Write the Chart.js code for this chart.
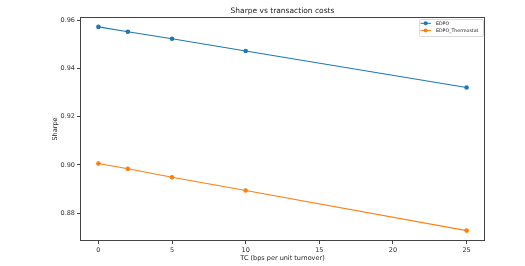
<!DOCTYPE html>
<html><head><meta charset="utf-8">
<script src="https://cdn.jsdelivr.net/npm/chart.js@4"></script>
<style>html,body{margin:0;padding:0;background:#fff}#c{display:block}</style>
</head><body>
<div style="width:525px;height:266px"><canvas id="c" width="525" height="266"></canvas></div>
<script>
const tcValues = [0, 2, 5, 10, 25];
const edpo = [0.9572, 0.9552, 0.9523, 0.9472, 0.9321];
const edpoThermostat = [0.9006, 0.8984, 0.8949, 0.8894, 0.8728];
const seriesNames = ['EDPO', 'EDPO_Thermostat'];
const xTicks = [0, 5, 10, 15, 20, 25];
const yTicks = [0.88, 0.90, 0.92, 0.94, 0.96];
const titleText = 'Sharpe vs transaction costs';
const xLabel = 'TC (bps per unit turnover)';
const yLabel = 'Sharpe';
const colors = ['#1f77b4', '#ff7f0e'];
const FONT = '"DejaVu Sans", sans-serif';

const toPts = ys => tcValues.map((x, i) => ({x, y: ys[i]}));

const decor = {
  id: 'decor',
  afterDraw(chart) {
    const {ctx, chartArea: a} = chart;
    ctx.save();
    // frame
    ctx.strokeStyle = '#444';
    ctx.lineWidth = 1;
    ctx.strokeRect(Math.round(a.left) + 0.5, Math.round(a.top) + 0.5, Math.round(a.right - a.left) - 1, Math.round(a.bottom - a.top) - 1);
    // title
    ctx.fillStyle = '#222';
    ctx.textAlign = 'center';
    ctx.textBaseline = 'middle';
    ctx.font = '7.5px ' + FONT;
    ctx.fillText(titleText, (a.left + a.right) / 2, 11);
    // x label
    ctx.font = '6.5px ' + FONT;
    ctx.fillText(xLabel, (a.left + a.right) / 2, 258);
    // y label
    ctx.save();
    ctx.translate(55, (a.top + a.bottom) / 2);
    ctx.rotate(-Math.PI / 2);
    ctx.fillText(yLabel, 0, 0);
    ctx.restore();
    // legend
    const bx = 419, by = 19, bw = 64, bh = 17;
    ctx.fillStyle = 'rgba(255,255,255,0.8)';
    ctx.strokeStyle = '#d0d0d0';
    ctx.lineWidth = 0.8;
    ctx.beginPath();
    ctx.roundRect(bx + 0.5, by + 0.5, bw, bh, 1.5);
    ctx.fill();
    ctx.stroke();
    const rows = [23.3, 30.6];
    ctx.font = '4.7px ' + FONT;
    ctx.textAlign = 'left';
    seriesNames.forEach((name, i) => {
      const y = rows[i];
      ctx.strokeStyle = colors[i];
      ctx.lineWidth = 1;
      ctx.beginPath();
      ctx.moveTo(420.5, y);
      ctx.lineTo(431, y);
      ctx.stroke();
      ctx.fillStyle = colors[i];
      ctx.beginPath();
      ctx.arc(425.7, y, 2, 0, Math.PI * 2);
      ctx.fill();
      ctx.fillStyle = '#222';
      ctx.fillText(name, 436, y + 0.3);
    });
    ctx.restore();
  }
};

new Chart(document.getElementById('c'), {
  type: 'scatter',
  data: {
    datasets: [edpo, edpoThermostat].map((ys, i) => ({
      label: seriesNames[i],
      data: toPts(ys),
      showLine: true,
      borderColor: colors[i],
      backgroundColor: colors[i],
      borderWidth: 1.1,
      pointRadius: 2.3,
      pointHoverRadius: 2.3,
      pointBorderWidth: 0,
      tension: 0
    }))
  },
  options: {
    responsive: false,
    animation: false,
    devicePixelRatio: 1,
    layout: {padding: {left: 0, right: 40, top: 17, bottom: 0}},
    plugins: {legend: {display: false}, title: {display: false}, tooltip: {enabled: false}},
    scales: {
      x: {
        type: 'linear', min: -1.25, max: 26.25,
        afterFit(s) { s.height = 25; },
        afterBuildTicks(s) { s.ticks = xTicks.map(v => ({value: v})); },
        grid: {drawOnChartArea: false, drawTicks: true, tickLength: 3, tickColor: '#444', color: '#444'},
        border: {display: false},
        ticks: {color: '#333', font: {family: FONT, size: 6.5}, padding: 2, maxRotation: 0, autoSkip: false}
      },
      y: {
        type: 'linear', min: 0.8685, max: 0.9613,
        afterFit(s) { s.width = 80; },
        afterBuildTicks(s) { s.ticks = yTicks.map(v => ({value: v})); },
        grid: {drawOnChartArea: false, drawTicks: true, tickLength: 3, tickColor: '#444', color: '#444'},
        border: {display: false},
        ticks: {color: '#333', font: {family: FONT, size: 6.5}, padding: 2, autoSkip: false,
          callback: v => v.toFixed(2)}
      }
    }
  },
  plugins: [decor]
});
</script>
</body></html>
